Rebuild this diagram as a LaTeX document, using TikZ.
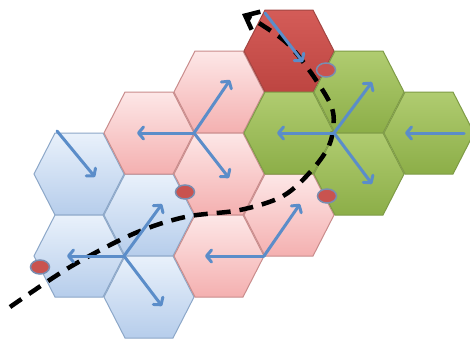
\documentclass[tikz,border=0pt]{standalone}
\usetikzlibrary{arrows.meta,shapes.geometric}
\definecolor{pinkT}{HTML}{FDE7E7}
\definecolor{pinkB}{HTML}{F4B0B0}
\definecolor{pinkD}{HTML}{C98C8C}
\definecolor{blueT}{HTML}{E9F1FB}
\definecolor{blueB}{HTML}{B6CDEB}
\definecolor{blueD}{HTML}{8CA7C8}
\definecolor{greenT}{HTML}{B0CC70}
\definecolor{greenB}{HTML}{8CAE48}
\definecolor{greenD}{HTML}{7E9B46}
\definecolor{redT}{HTML}{D45C58}
\definecolor{redB}{HTML}{BD4541}
\definecolor{redD}{HTML}{A24542}
\definecolor{arrowC}{HTML}{5B8DC9}
\definecolor{dotF}{HTML}{C9534F}
\definecolor{dotD}{HTML}{7A8DB0}
\begin{document}
\begin{tikzpicture}[x=1pt,y=-1pt,
  hexblue/.style={draw=blueD, top color=blueT, bottom color=blueB, line width=1pt},
  hexpink/.style={draw=pinkD, top color=pinkT, bottom color=pinkB, line width=1pt},
  hexgreen/.style={draw=greenD, top color=greenT, bottom color=greenB, line width=1pt},
  hexred/.style={draw=redD, top color=redT, bottom color=redB, line width=1pt},
  flow/.style={draw=arrowC, line width=3pt, line cap=round, -{Straight Barb[length=5pt,width=12pt,round]}},
  route/.style={draw=black, line width=4.5pt, dash pattern=on 14pt off 9pt, -{Straight Barb[length=12pt,width=20pt]}},
  marker/.style={shape=ellipse, draw=dotD, fill=dotF, line width=1.5pt, minimum width=19pt, minimum height=14pt, inner sep=0pt}]
\useasboundingbox[fill=white] (0,0) rectangle (470,340);

% hexagons
\foreach \cx/\cy/\st in {
  79/174/hexblue, 79/256/hexblue, 149/215/hexblue, 149/297/hexblue,
  149/133/hexpink, 219/92/hexpink, 219/174/hexpink, 219/256/hexpink, 289/215/hexpink,
  289/51/hexred,
  289/133/hexgreen, 359/92/hexgreen, 359/174/hexgreen, 429/133/hexgreen}
  \path[\st, shift={(\cx,\cy)}] (-45,0) -- (-24,-41) -- (24,-41) -- (45,0) -- (24,41) -- (-24,41) -- cycle;

% dashed route
\coordinate (r1) at (10,307);
\coordinate (r2) at (70,267);
\coordinate (r3) at (133,234);
\coordinate (r4) at (185,217);
\coordinate (r5) at (240,210);
\coordinate (r6) at (283,196);
\coordinate (r7) at (312,170);
\coordinate (r8) at (330,143);
\coordinate (r9) at (333,112);
\coordinate (r10) at (318,83);
\coordinate (r11) at (290,46);
\coordinate (r12) at (262,25);
\coordinate (r13) at (242,14);
\draw[route] plot[smooth, tension=0.55] coordinates {(r1) (r2) (r3) (r4) (r5) (r6) (r7) (r8) (r9) (r10) (r11) (r12) (r13)};

% star centres and arrow ends
\coordinate (sB) at (124,256);
\coordinate (sR) at (194,133);
\coordinate (sG) at (334,133);
\coordinate (sQ) at (264,256);

\coordinate (sBl) at (67,256);
\coordinate (sBu) at (162,204);
\coordinate (sBd) at (162,306);
\draw[flow] (sB) -- (sBl);
\draw[flow] (sB) -- (sBu);
\draw[flow] (sB) -- (sBd);

\coordinate (sRl) at (137,133);
\coordinate (sRu) at (230,80);
\coordinate (sRd) at (229,178);
\draw[flow] (sR) -- (sRl);
\draw[flow] (sR) -- (sRu);
\draw[flow] (sR) -- (sRd);

\coordinate (sGl) at (277,133);
\coordinate (sGu) at (372,82);
\coordinate (sGd) at (372,184);
\draw[flow] (sG) -- (sGl);
\draw[flow] (sG) -- (sGu);
\draw[flow] (sG) -- (sGd);

\coordinate (sQl) at (205,256);
\coordinate (sQu) at (300,204);
\draw[flow] (sQ) -- (sQl);
\draw[flow] (sQ) -- (sQu);

\coordinate (b1s) at (57,131);
\coordinate (b1e) at (95,177);
\draw[flow] (b1s) -- (b1e);

\coordinate (dks) at (265,13);
\coordinate (dke) at (303,62);
\draw[flow] (dks) -- (dke);

\coordinate (g5s) at (464,133);
\coordinate (g5e) at (405,133);
\draw[flow] (g5s) -- (g5e);

% markers
\node[marker] (m1) at (40,267) {};
\node[marker] (m2) at (185,192) {};
\node[marker] (m3) at (326,70) {};
\node[marker] (m4) at (327,196) {};
\end{tikzpicture}
\end{document}
